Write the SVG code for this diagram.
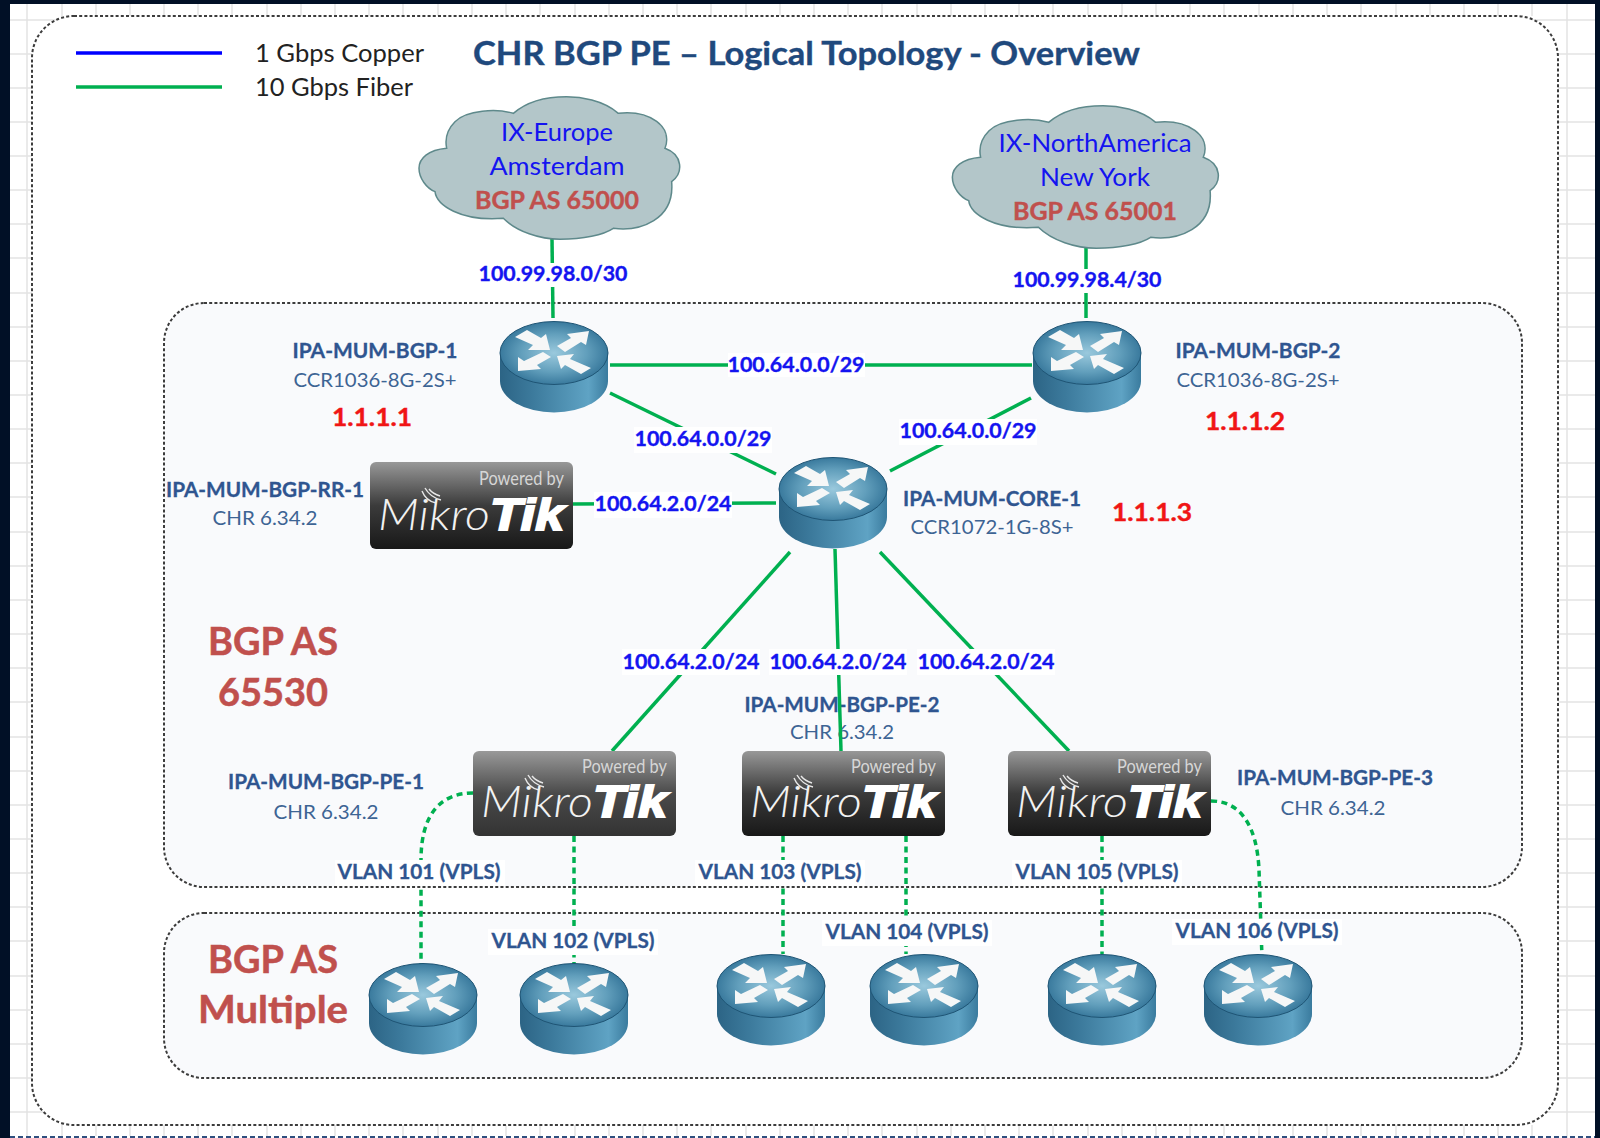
<svg xmlns="http://www.w3.org/2000/svg" width="1600" height="1138" viewBox="0 0 1600 1138">
<style>
text{font-family:"Lato","Carlito","Liberation Sans",sans-serif}
.title{font-size:33px;font-weight:700;fill:#1f497d;stroke:#1f497d;stroke-width:.4}
.leg{font-size:25px;fill:#222}
.ix{font-size:25px;fill:#1414f0;text-anchor:middle}
.as{font-size:25px;font-weight:700;fill:#c0504d;stroke:#c0504d;stroke-width:.4;text-anchor:middle}
.big{font-size:38px;font-weight:700;fill:#c0504d;stroke:#c0504d;stroke-width:.5;text-anchor:middle}
.ll{font-size:20px;font-weight:700;fill:#1414f0;stroke:#1414f0;stroke-width:.35;text-anchor:middle}
.nm{font-size:20px;font-weight:700;fill:#2f5590;stroke:#2f5590;stroke-width:.3;text-anchor:middle}
.md{font-size:19px;fill:#3d6494;text-anchor:middle}
.ip{font-size:24px;font-weight:700;fill:#f01515;stroke:#f01515;stroke-width:.4;text-anchor:middle}
.vl{font-size:20px;font-weight:700;fill:#2f5590;stroke:#2f5590;stroke-width:.3;text-anchor:middle}
.bg{fill:#fff}
.lnk{fill:none;stroke:#00b050;stroke-width:3.5}
.dot{fill:none;stroke:#00b050;stroke-width:3.5;stroke-dasharray:6 4.5}
.grid{stroke:#e3e3e3;stroke-width:1.5;fill:none}
.box{stroke:#3c3c3c;stroke-width:2;stroke-dasharray:3 2.2}
.pb{font-size:20px;fill:#d6d6d6;text-anchor:end}
.mk{font-size:44px;font-style:italic;font-weight:300;fill:#f2f2f2}
.tk{font-family:"Liberation Sans",sans-serif;font-size:44px;font-style:italic;font-weight:700;fill:#fff;stroke:#fff;stroke-width:2}
.wave{fill:none;stroke:#e8e8e8;stroke-width:1.4}
.cl{fill:#b3c6c9;stroke:#5e898b;stroke-width:4.5}
</style>
<defs>
<linearGradient id="side" x1="0" x2="1" y1="0" y2="0"><stop offset="0" stop-color="#2c6485"/><stop offset=".3" stop-color="#3c7a9c"/><stop offset=".82" stop-color="#5fa3c4"/><stop offset="1" stop-color="#3a7b9e"/></linearGradient>
<radialGradient id="top" cx=".5" cy=".5" r=".55"><stop offset="0" stop-color="#9ac9dd"/><stop offset=".55" stop-color="#629fbc"/><stop offset="1" stop-color="#2f7095"/></radialGradient>
<linearGradient id="lg" x1="0" x2="0" y1="0" y2="1"><stop offset="0" stop-color="#989898"/><stop offset=".5" stop-color="#3b3b3b"/><stop offset="1" stop-color="#181818"/></linearGradient>
<linearGradient id="lg1" x1="0" x2="0" y1="0" y2="1"><stop offset="0" stop-color="#999"/><stop offset=".5" stop-color="#4a4a4a"/><stop offset="1" stop-color="#333"/></linearGradient>
<symbol id="router" width="110" height="92" viewBox="0 0 110 92">
<path d="M1,32 V60 A54,31.5 0 0 0 109,60 V32 Z" fill="url(#side)"/>
<ellipse cx="55" cy="32" rx="54" ry="31.5" fill="url(#top)" stroke="#1f5575" stroke-width="1"/>
<g fill="#f6f7f7">
<polygon points="16,16 28,9 42,17 47,13 51,29 29,29 34,24"/>
<polygon points="58,25 72,17 68,13 90,10 87,24 82,21 66,31"/>
<polygon points="44,31 52,36 38,44 42,48 19,50 19,36 25,40"/>
<polygon points="58,35 75,33 71,38 92,47 82,53 66,44 62,48"/>
</g>
</symbol>
<path id="cloudp" d="M140,205 C85,210 57,235 57,265 C57,295 80,325 105,335 C110,375 180,425 310,415 C350,455 420,478 480,478 C550,478 610,465 640,445 C720,455 825,420 815,305 C850,280 850,225 795,205 C820,140 750,90 655,100 C610,60 540,50 500,50 C440,50 380,65 340,100 C290,85 200,90 165,125 C140,150 135,180 140,205 Z"/>
<g id="waves"><path class="wave" d="M52,27 Q56,37 66,39"/><path class="wave" d="M55,24 Q60,33 71,36"/><path class="wave" d="M59,25 Q63,30 70,32"/></g>
</defs>

<rect x="0" y="0" width="1600" height="1138" fill="#fff"/>
<g id="grid">
<path class="grid" d="M27,0V1138M62,0V1138M1567,0V1138M0,20H1600M0,1112H1600"/>
<path class="grid" d="M10,54H32M10,88H32M10,122H32M10,156H32M10,190H32M10,224H32M10,258H32M10,293H32M10,327H32M10,361H32M10,395H32M10,429H32M10,463H32M10,497H32M10,532H32M10,566H32M10,600H32M10,634H32M10,668H32M10,702H32M10,737H32M10,771H32M10,805H32M10,839H32M10,873H32M10,907H32M10,941H32M10,976H32M10,1010H32M10,1044H32M10,1078H32M1558,54H1595M1558,88H1595M1558,122H1595M1558,156H1595M1558,190H1595M1558,224H1595M1558,258H1595M1558,293H1595M1558,327H1595M1558,361H1595M1558,395H1595M1558,429H1595M1558,463H1595M1558,497H1595M1558,532H1595M1558,566H1595M1558,600H1595M1558,634H1595M1558,668H1595M1558,702H1595M1558,737H1595M1558,771H1595M1558,805H1595M1558,839H1595M1558,873H1595M1558,907H1595M1558,941H1595M1558,976H1595M1558,1010H1595M1558,1044H1595M1558,1078H1595"/>
<path class="grid" d="M96,4V16M130,4V16M164,4V16M198,4V16M232,4V16M267,4V16M301,4V16M335,4V16M369,4V16M403,4V16M438,4V16M472,4V16M506,4V16M540,4V16M575,4V16M609,4V16M643,4V16M677,4V16M711,4V16M746,4V16M780,4V16M814,4V16M848,4V16M882,4V16M917,4V16M951,4V16M985,4V16M1019,4V16M1053,4V16M1088,4V16M1122,4V16M1156,4V16M1190,4V16M1224,4V16M1259,4V16M1293,4V16M1327,4V16M1361,4V16M1396,4V16M1430,4V16M1464,4V16M1498,4V16M1532,4V16"/>
<path class="grid" d="M96,1125V1136M130,1125V1136M164,1125V1136M198,1125V1136M232,1125V1136M267,1125V1136M301,1125V1136M335,1125V1136M369,1125V1136M403,1125V1136M438,1125V1136M472,1125V1136M506,1125V1136M540,1125V1136M575,1125V1136M609,1125V1136M643,1125V1136M677,1125V1136M711,1125V1136M746,1125V1136M780,1125V1136M814,1125V1136M848,1125V1136M882,1125V1136M917,1125V1136M951,1125V1136M985,1125V1136M1019,1125V1136M1053,1125V1136M1088,1125V1136M1122,1125V1136M1156,1125V1136M1190,1125V1136M1224,1125V1136M1259,1125V1136M1293,1125V1136M1327,1125V1136M1361,1125V1136M1396,1125V1136M1430,1125V1136M1464,1125V1136M1498,1125V1136M1532,1125V1136"/>
</g>
<g id="frame">
<rect x="0" y="0" width="10" height="1138" fill="#011026"/>
<rect x="1595" y="0" width="5" height="1138" fill="#011026"/>
<rect x="0" y="0" width="1600" height="4" fill="#011026"/>
<path d="M10,1137H1595" stroke="#2f4f7f" stroke-width="2" stroke-dasharray="5 3"/>
</g>
<rect id="outer" class="box" x="32" y="16" width="1526" height="1109" rx="42" fill="#fff"/>
<rect id="as-65530" class="box" x="164" y="303" width="1358" height="584" rx="40" fill="#f9fafc"/>
<rect id="as-multiple" class="box" x="164" y="913" width="1358" height="165" rx="40" fill="#f9fafc"/>

<g id="legend">
<path d="M76,53H222" stroke="#0000ff" stroke-width="3.5"/>
<path d="M76,87H222" stroke="#00b050" stroke-width="3.5"/>
<text class="leg" x="255" y="62" textLength="169" lengthAdjust="spacingAndGlyphs">1 Gbps Copper</text>
<text class="leg" x="255" y="96" textLength="158" lengthAdjust="spacingAndGlyphs">10 Gbps Fiber</text>
</g>
<text class="title" id="title" x="473" y="65" textLength="667" lengthAdjust="spacingAndGlyphs">CHR BGP PE – Logical Topology - Overview</text>

<g id="pe-2-label">
<text class="nm" x="842" y="712" textLength="195" lengthAdjust="spacingAndGlyphs">IPA-MUM-BGP-PE-2</text>
<text class="md" x="842" y="739" textLength="104" lengthAdjust="spacingAndGlyphs">CHR 6.34.2</text>
</g>

<g id="connectors">
<path class="lnk" d="M552,239 L553,318"/>
<path class="lnk" d="M1086,247 V318"/>
<path class="lnk" d="M610,365 H1032"/>
<path class="lnk" d="M610,393 L776,474"/>
<path class="lnk" d="M1031,398 L890,471"/>
<path class="lnk" d="M573,504 L776,503"/>
<path class="lnk" d="M790,552 L612,751"/>
<path class="lnk" d="M835,549 L841,751"/>
<path class="lnk" d="M880,552 L1069,751"/>
<path class="dot" d="M473,793 C440,793 421,815 421,860 V964"/>
<path class="dot" d="M574,836 V964"/>
<path class="dot" d="M783,836 V954"/>
<path class="dot" d="M906,836 V954"/>
<path class="dot" d="M1102,836 V954"/>
<path class="dot" d="M1211,801 C1240,801 1257,825 1259,870 L1262,958"/>
<g id="link-labels">
<rect class="bg" x="476" y="263" width="155" height="24"/><text class="ll" x="553" y="281" textLength="149" lengthAdjust="spacingAndGlyphs">100.99.98.0/30</text>
<rect class="bg" x="1010" y="269" width="155" height="24"/><text class="ll" x="1087" y="287" textLength="149" lengthAdjust="spacingAndGlyphs">100.99.98.4/30</text>
<rect class="bg" x="728" y="353" width="137" height="24"/><text class="ll" x="796" y="372" textLength="137" lengthAdjust="spacingAndGlyphs">100.64.0.0/29</text>
<rect class="bg" x="634" y="427" width="138" height="26"/><text class="ll" x="703" y="446" textLength="137" lengthAdjust="spacingAndGlyphs">100.64.0.0/29</text>
<rect class="bg" x="899" y="419" width="138" height="26"/><text class="ll" x="968" y="438" textLength="137" lengthAdjust="spacingAndGlyphs">100.64.0.0/29</text>
<rect class="bg" x="594" y="492" width="138" height="26"/><text class="ll" x="663" y="511" textLength="137" lengthAdjust="spacingAndGlyphs">100.64.2.0/24</text>
<rect class="bg" x="622" y="649" width="138" height="26"/><text class="ll" x="691" y="669" textLength="137" lengthAdjust="spacingAndGlyphs">100.64.2.0/24</text>
<rect class="bg" x="769" y="649" width="138" height="26"/><text class="ll" x="838" y="669" textLength="137" lengthAdjust="spacingAndGlyphs">100.64.2.0/24</text>
<rect class="bg" x="917" y="649" width="138" height="26"/><text class="ll" x="986" y="669" textLength="137" lengthAdjust="spacingAndGlyphs">100.64.2.0/24</text>
<rect class="bg" x="335" y="860" width="170" height="26"/><text class="vl" x="419" y="879" textLength="163" lengthAdjust="spacingAndGlyphs">VLAN 101 (VPLS)</text>
<rect class="bg" x="488" y="929" width="170" height="26"/><text class="vl" x="573" y="948" textLength="163" lengthAdjust="spacingAndGlyphs">VLAN 102 (VPLS)</text>
<rect class="bg" x="695" y="860" width="170" height="26"/><text class="vl" x="780" y="879" textLength="163" lengthAdjust="spacingAndGlyphs">VLAN 103 (VPLS)</text>
<rect class="bg" x="822" y="920" width="170" height="26"/><text class="vl" x="907" y="939" textLength="163" lengthAdjust="spacingAndGlyphs">VLAN 104 (VPLS)</text>
<rect class="bg" x="1012" y="860" width="170" height="26"/><text class="vl" x="1097" y="879" textLength="163" lengthAdjust="spacingAndGlyphs">VLAN 105 (VPLS)</text>
<rect class="bg" x="1172" y="919" width="170" height="26"/><text class="vl" x="1257" y="938" textLength="163" lengthAdjust="spacingAndGlyphs">VLAN 106 (VPLS)</text>
</g>
</g>

<g id="ix-europe">
<use href="#cloudp" class="cl" transform="translate(400,80) scale(.3333)"/>
<text class="ix" x="557" y="141" textLength="112" lengthAdjust="spacingAndGlyphs">IX-Europe</text>
<text class="ix" x="557" y="175" textLength="135" lengthAdjust="spacingAndGlyphs">Amsterdam</text>
<text class="as" x="557" y="209" textLength="164" lengthAdjust="spacingAndGlyphs">BGP AS 65000</text>
</g>
<g id="ix-northamerica">
<use href="#cloudp" class="cl" transform="translate(933,89) scale(.34,.3333)"/>
<text class="ix" x="1095" y="152" textLength="193" lengthAdjust="spacingAndGlyphs">IX-NorthAmerica</text>
<text class="ix" x="1095" y="186" textLength="110" lengthAdjust="spacingAndGlyphs">New York</text>
<text class="as" x="1095" y="220" textLength="164" lengthAdjust="spacingAndGlyphs">BGP AS 65001</text>
</g>

<g id="ipa-mum-bgp-1">
<use href="#router" x="499" y="321" width="110" height="92"/>
<text class="nm" x="375" y="358" textLength="165" lengthAdjust="spacingAndGlyphs">IPA-MUM-BGP-1</text>
<text class="md" x="375" y="387" textLength="163" lengthAdjust="spacingAndGlyphs">CCR1036-8G-2S+</text>
<text class="ip" x="372" y="426" textLength="80" lengthAdjust="spacingAndGlyphs">1.1.1.1</text>
</g>
<g id="ipa-mum-bgp-2">
<use href="#router" x="1032" y="321" width="110" height="92"/>
<text class="nm" x="1258" y="358" textLength="165" lengthAdjust="spacingAndGlyphs">IPA-MUM-BGP-2</text>
<text class="md" x="1258" y="387" textLength="163" lengthAdjust="spacingAndGlyphs">CCR1036-8G-2S+</text>
<text class="ip" x="1245" y="430" textLength="80" lengthAdjust="spacingAndGlyphs">1.1.1.2</text>
</g>
<g id="ipa-mum-core-1">
<use href="#router" x="778" y="457" width="110" height="92"/>
<text class="nm" x="992" y="506" textLength="178" lengthAdjust="spacingAndGlyphs">IPA-MUM-CORE-1</text>
<text class="md" x="992" y="534" textLength="163" lengthAdjust="spacingAndGlyphs">CCR1072-1G-8S+</text>
<text class="ip" x="1152" y="521" textLength="80" lengthAdjust="spacingAndGlyphs">1.1.1.3</text>
</g>

<g id="ipa-mum-bgp-rr-1">
<rect x="370" y="462" width="203" height="87" rx="6" fill="url(#lg)"/>
<text class="pb" x="564" y="485" textLength="85" lengthAdjust="spacingAndGlyphs">Powered by</text>
<use href="#waves" x="370" y="464"/>
<text class="mk" x="378" y="530" textLength="112" lengthAdjust="spacingAndGlyphs">Mikro</text>
<text class="tk" x="490" y="530" textLength="74" lengthAdjust="spacingAndGlyphs">Tik</text>
<text class="nm" x="265" y="497" textLength="198" lengthAdjust="spacingAndGlyphs">IPA-MUM-BGP-RR-1</text>
<text class="md" x="265" y="525" textLength="105" lengthAdjust="spacingAndGlyphs">CHR 6.34.2</text>
</g>
<g id="ipa-mum-bgp-pe-1">
<rect x="473" y="751" width="203" height="85" rx="6" fill="url(#lg1)"/>
<text class="pb" x="667" y="773" textLength="85" lengthAdjust="spacingAndGlyphs">Powered by</text>
<use href="#waves" x="473" y="751"/>
<text class="mk" x="481" y="817" textLength="112" lengthAdjust="spacingAndGlyphs">Mikro</text>
<text class="tk" x="593" y="817" textLength="74" lengthAdjust="spacingAndGlyphs">Tik</text>
<text class="nm" x="326" y="789" textLength="196" lengthAdjust="spacingAndGlyphs">IPA-MUM-BGP-PE-1</text>
<text class="md" x="326" y="819" textLength="105" lengthAdjust="spacingAndGlyphs">CHR 6.34.2</text>
</g>
<g id="ipa-mum-bgp-pe-2">
<rect x="742" y="751" width="203" height="85" rx="6" fill="url(#lg)"/>
<text class="pb" x="936" y="773" textLength="85" lengthAdjust="spacingAndGlyphs">Powered by</text>
<use href="#waves" x="742" y="751"/>
<text class="mk" x="750" y="817" textLength="112" lengthAdjust="spacingAndGlyphs">Mikro</text>
<text class="tk" x="862" y="817" textLength="74" lengthAdjust="spacingAndGlyphs">Tik</text>
</g>
<g id="ipa-mum-bgp-pe-3">
<rect x="1008" y="751" width="203" height="85" rx="6" fill="url(#lg)"/>
<text class="pb" x="1202" y="773" textLength="85" lengthAdjust="spacingAndGlyphs">Powered by</text>
<use href="#waves" x="1008" y="751"/>
<text class="mk" x="1016" y="817" textLength="112" lengthAdjust="spacingAndGlyphs">Mikro</text>
<text class="tk" x="1128" y="817" textLength="74" lengthAdjust="spacingAndGlyphs">Tik</text>
<text class="nm" x="1335" y="785" textLength="196" lengthAdjust="spacingAndGlyphs">IPA-MUM-BGP-PE-3</text>
<text class="md" x="1333" y="815" textLength="105" lengthAdjust="spacingAndGlyphs">CHR 6.34.2</text>
</g>

<g id="ce-1"><use href="#router" x="368" y="963" width="110" height="92"/></g>
<g id="ce-2"><use href="#router" x="519" y="963" width="110" height="92"/></g>
<g id="ce-3"><use href="#router" x="716" y="954" width="110" height="92"/></g>
<g id="ce-4"><use href="#router" x="869" y="954" width="110" height="92"/></g>
<g id="ce-5"><use href="#router" x="1047" y="954" width="110" height="92"/></g>
<g id="ce-6"><use href="#router" x="1203" y="954" width="110" height="92"/></g>

<g id="as-labels">
<text class="big" x="273" y="655" textLength="130" lengthAdjust="spacingAndGlyphs">BGP AS</text>
<text class="big" x="273" y="706" textLength="110" lengthAdjust="spacingAndGlyphs">65530</text>
<text class="big" x="273" y="973" textLength="130" lengthAdjust="spacingAndGlyphs">BGP AS</text>
<text class="big" x="273" y="1023" textLength="150" lengthAdjust="spacingAndGlyphs">Multiple</text>
</g>
</svg>
